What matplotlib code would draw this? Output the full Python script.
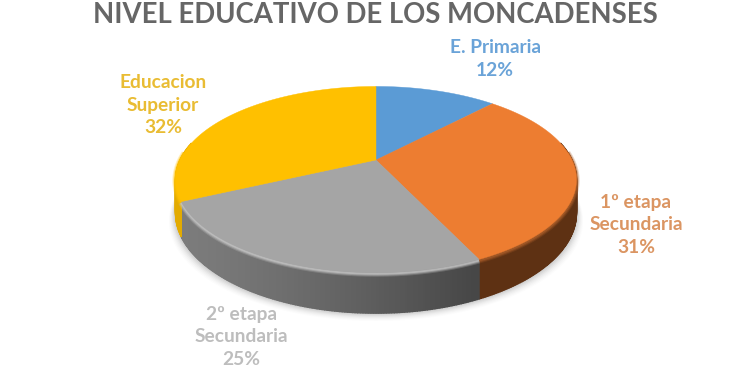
import numpy as np
import matplotlib
matplotlib.use("Agg")
import matplotlib.pyplot as plt

title = "NIVEL EDUCATIVO DE LOS MONCADENSES"
categories = ["E. Primaria", "1º etapa\nSecundaria", "2º etapa\nSecundaria", "Educacion\nSuperior"]
percent = [12, 31, 25, 32]

top_colors = ["#5B9BD5", "#ED7D31", "#A5A5A5", "#FFC000"]
wall_left = ["#3A6A95", "#5E3113", "#7C7C7C", "#E3AB00"]
wall_right = ["#3A6A95", "#5E3113", "#474747", "#E3AB00"]
rim_colors = ["#5B9BD5", "#A85C28", "#C4C4C4", "#FFC000"]
label_colors = ["#6AA3D8", "#DB9562", "#BDBDBD", "#E9BC33"]
label_pos = [(495, 59), (636, 225), (241, 337), (163, 105)]

CX, CY, A, B, K, DEPTH = 376, 160, 196, 89, 0.21, 32


def project(t):
    x, y = np.sin(t), np.cos(t)
    d = 1 + K * y
    return CX + A * x / d, CY - B * y / d, DEPTH / d


fig = plt.figure(figsize=(7.5, 3.75), dpi=100)
ax = fig.add_axes([0, 0, 1, 1])
ax.set_xlim(0, 750)
ax.set_ylim(375, 0)
ax.axis("off")

# soft shadow under the pie
circle = np.linspace(0, 2 * np.pi, 361)
px, py, pd = project(circle)
for grow, alpha in zip(np.linspace(10, 1, 8), [0.012, 0.015, 0.02, 0.025, 0.03, 0.035, 0.04, 0.05]):
    ax.fill(CX + (px - CX) * (1 + grow / 300), py + pd + grow * 0.8, color="black", alpha=alpha, lw=0, zorder=1)

edges = 2 * np.pi * np.cumsum([0] + percent) / sum(percent)

# side wall, front part only
for i in range(len(percent)):
    n = max(2, int(percent[i] * 6))
    ts = np.linspace(edges[i], edges[i + 1], n + 1)
    ts = ts[np.cos(ts) < 0.2]
    if ts.size < 2:
        continue
    xs, ys, ds = project(ts)
    c0 = np.array(matplotlib.colors.to_rgb(wall_left[i]))
    c1 = np.array(matplotlib.colors.to_rgb(wall_right[i]))
    for j in range(ts.size - 1):
        f = np.clip((xs[j] - 180) / (473 - 180), 0, 1) ** 1.3
        col = c0 + (c1 - c0) * f
        ax.fill([xs[j], xs[j + 1], xs[j + 1], xs[j]],
                [ys[j], ys[j + 1], ys[j + 1] + ds[j + 1], ys[j] + ds[j]],
                facecolor=col, edgecolor=col, lw=1.0, zorder=2)

# rim highlight on the front part only
for i in range(len(percent)):
    ts = np.linspace(edges[i], edges[i + 1], 160)
    ts = ts[np.cos(ts) < 0.1]
    if ts.size < 2:
        continue
    xs, ys, ds = project(ts)
    for lw, al in [(4.5, 0.25), (3, 0.45), (1.5, 0.7)]:
        ax.plot(xs, ys + 1, color=rim_colors[i], lw=lw, alpha=al, zorder=3, solid_capstyle="butt")

# top faces
for i in range(len(percent)):
    ts = np.linspace(edges[i], edges[i + 1], 160)
    xs, ys, _ = project(ts)
    ax.fill(np.r_[CX, xs], np.r_[CY, ys], color=top_colors[i], lw=0.3, zorder=4)

# texts
ax.text(375, 15, title, ha="center", va="center", fontsize=19.85, fontweight="bold",
        color="#666666", family="Lato", zorder=6)
for name, p, col, (lx, ly) in zip(categories, percent, label_colors, label_pos):
    ax.text(lx, ly, f"{name}\n{p}%", ha="center", va="center", fontsize=13.8, fontweight="bold",
            color=col, family="Lato", linespacing=1.4, zorder=6)

fig.savefig("out.png", dpi=100)
